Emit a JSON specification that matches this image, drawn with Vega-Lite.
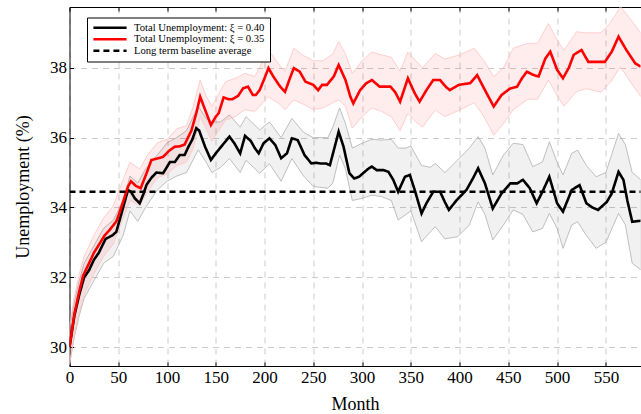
{
  "$schema": "https://vega.github.io/schema/vega-lite/v6.json",
  "autosize": "none",
  "padding": {"left": 69.5, "top": 7, "right": 0, "bottom": 48},
  "width": 571,
  "height": 359,
  "config": {
    "view": {"stroke": null},
    "font": "Liberation Serif",
    "axis": {
      "labelFont": "Liberation Serif",
      "titleFont": "Liberation Serif",
      "labelFontSize": 17,
      "titleFontSize": 18,
      "titleFontWeight": "normal",
      "labelColor": "#000",
      "titleColor": "#000",
      "domainColor": "#000",
      "domainWidth": 1,
      "tickColor": "#000",
      "tickSize": -4,
      "gridColor": "#bfbfbf",
      "gridDash": [6, 5],
      "gridWidth": 0.8
    }
  },
  "datasets": {
    "lines": [
      {"s":"a","m":0,"v":30.0},{"s":"a","m":5,"v":30.9},{"s":"a","m":10,"v":31.5},{"s":"a","m":15,"v":32.0},{"s":"a","m":20,"v":32.2},{"s":"a","m":25,"v":32.5},{"s":"a","m":30,"v":32.7},{"s":"a","m":37,"v":33.1},{"s":"a","m":44,"v":33.2},{"s":"a","m":48,"v":33.3},{"s":"a","m":52,"v":33.7},{"s":"a","m":56,"v":34.1},{"s":"a","m":60,"v":34.5},{"s":"a","m":63,"v":34.45},{"s":"a","m":67,"v":34.26},{"s":"a","m":72,"v":34.12},{"s":"a","m":76,"v":34.4},{"s":"a","m":79,"v":34.65},{"s":"a","m":84,"v":34.85},{"s":"a","m":89,"v":35.0},{"s":"a","m":96,"v":34.98},{"s":"a","m":103,"v":35.3},{"s":"a","m":108,"v":35.3},{"s":"a","m":113,"v":35.5},{"s":"a","m":118,"v":35.5},{"s":"a","m":122,"v":35.74},{"s":"a","m":126,"v":35.95},{"s":"a","m":130,"v":36.27},{"s":"a","m":133,"v":36.2},{"s":"a","m":139,"v":35.74},{"s":"a","m":145,"v":35.36},{"s":"a","m":150,"v":35.55},{"s":"a","m":157,"v":35.79},{"s":"a","m":164,"v":36.03},{"s":"a","m":169,"v":35.84},{"s":"a","m":175,"v":35.55},{"s":"a","m":180,"v":36.05},{"s":"a","m":186,"v":35.9},{"s":"a","m":190,"v":35.7},{"s":"a","m":194,"v":35.55},{"s":"a","m":199,"v":35.84},{"s":"a","m":205,"v":35.98},{"s":"a","m":211,"v":35.79},{"s":"a","m":217,"v":35.41},{"s":"a","m":223,"v":35.55},{"s":"a","m":228,"v":35.98},{"s":"a","m":234,"v":35.93},{"s":"a","m":241,"v":35.5},{"s":"a","m":248,"v":35.26},{"s":"a","m":253,"v":35.28},{"s":"a","m":257,"v":35.26},{"s":"a","m":263,"v":35.26},{"s":"a","m":267,"v":35.21},{"s":"a","m":272,"v":35.74},{"s":"a","m":276,"v":36.17},{"s":"a","m":281,"v":35.74},{"s":"a","m":287,"v":34.98},{"s":"a","m":292,"v":34.83},{"s":"a","m":297,"v":34.88},{"s":"a","m":301,"v":34.98},{"s":"a","m":306,"v":35.1},{"s":"a","m":310,"v":35.17},{"s":"a","m":315,"v":35.07},{"s":"a","m":322,"v":35.07},{"s":"a","m":327,"v":35.02},{"s":"a","m":332,"v":34.79},{"s":"a","m":337,"v":34.45},{"s":"a","m":344,"v":34.88},{"s":"a","m":349,"v":34.93},{"s":"a","m":354,"v":34.5},{"s":"a","m":361,"v":33.83},{"s":"a","m":366,"v":34.12},{"s":"a","m":373,"v":34.45},{"s":"a","m":380,"v":34.45},{"s":"a","m":385,"v":34.15},{"s":"a","m":389,"v":33.93},{"s":"a","m":397,"v":34.21},{"s":"a","m":407,"v":34.5},{"s":"a","m":414,"v":34.85},{"s":"a","m":419,"v":35.12},{"s":"a","m":426,"v":34.69},{"s":"a","m":434,"v":33.97},{"s":"a","m":443,"v":34.4},{"s":"a","m":452,"v":34.69},{"s":"a","m":459,"v":34.69},{"s":"a","m":465,"v":34.79},{"s":"a","m":472,"v":34.55},{"s":"a","m":479,"v":34.12},{"s":"a","m":485,"v":34.45},{"s":"a","m":492,"v":34.88},{"s":"a","m":500,"v":34.12},{"s":"a","m":506,"v":33.88},{"s":"a","m":515,"v":34.5},{"s":"a","m":523,"v":34.64},{"s":"a","m":530,"v":34.12},{"s":"a","m":536,"v":34.0},{"s":"a","m":542,"v":33.93},{"s":"a","m":551,"v":34.16},{"s":"a","m":556,"v":34.4},{"s":"a","m":563,"v":35.02},{"s":"a","m":568,"v":34.79},{"s":"a","m":572,"v":34.2},{"s":"a","m":577,"v":33.59},{"s":"a","m":586,"v":33.62},
      {"s":"b","m":0,"v":30.0},{"s":"b","m":5,"v":30.95},{"s":"b","m":10,"v":31.6},{"s":"b","m":14,"v":32.05},{"s":"b","m":20,"v":32.4},{"s":"b","m":25,"v":32.7},{"s":"b","m":31,"v":32.97},{"s":"b","m":36,"v":33.2},{"s":"b","m":41,"v":33.35},{"s":"b","m":48,"v":33.6},{"s":"b","m":51,"v":33.83},{"s":"b","m":56,"v":34.25},{"s":"b","m":60,"v":34.6},{"s":"b","m":63,"v":34.75},{"s":"b","m":68,"v":34.62},{"s":"b","m":73,"v":34.55},{"s":"b","m":79,"v":34.98},{"s":"b","m":84,"v":35.36},{"s":"b","m":90,"v":35.4},{"s":"b","m":96,"v":35.45},{"s":"b","m":102,"v":35.62},{"s":"b","m":108,"v":35.74},{"s":"b","m":113,"v":35.75},{"s":"b","m":118,"v":35.8},{"s":"b","m":125,"v":36.2},{"s":"b","m":130,"v":36.7},{"s":"b","m":134,"v":37.17},{"s":"b","m":139,"v":36.8},{"s":"b","m":145,"v":36.36},{"s":"b","m":150,"v":36.6},{"s":"b","m":153,"v":36.7},{"s":"b","m":158,"v":37.15},{"s":"b","m":163,"v":37.1},{"s":"b","m":167,"v":37.1},{"s":"b","m":173,"v":37.2},{"s":"b","m":178,"v":37.41},{"s":"b","m":183,"v":37.46},{"s":"b","m":188,"v":37.22},{"s":"b","m":191,"v":37.22},{"s":"b","m":195,"v":37.36},{"s":"b","m":200,"v":37.7},{"s":"b","m":204,"v":37.99},{"s":"b","m":209,"v":37.75},{"s":"b","m":216,"v":37.46},{"s":"b","m":221,"v":37.31},{"s":"b","m":226,"v":37.7},{"s":"b","m":230,"v":37.99},{"s":"b","m":236,"v":37.89},{"s":"b","m":242,"v":37.6},{"s":"b","m":250,"v":37.51},{"s":"b","m":255,"v":37.36},{"s":"b","m":259,"v":37.51},{"s":"b","m":264,"v":37.51},{"s":"b","m":271,"v":37.75},{"s":"b","m":276,"v":38.08},{"s":"b","m":283,"v":37.65},{"s":"b","m":288,"v":37.17},{"s":"b","m":291,"v":36.98},{"s":"b","m":298,"v":37.36},{"s":"b","m":304,"v":37.55},{"s":"b","m":310,"v":37.65},{"s":"b","m":318,"v":37.46},{"s":"b","m":329,"v":37.46},{"s":"b","m":334,"v":37.3},{"s":"b","m":339,"v":37.03},{"s":"b","m":347,"v":37.7},{"s":"b","m":354,"v":37.27},{"s":"b","m":359,"v":37.03},{"s":"b","m":366,"v":37.36},{"s":"b","m":373,"v":37.65},{"s":"b","m":380,"v":37.65},{"s":"b","m":386,"v":37.45},{"s":"b","m":390,"v":37.36},{"s":"b","m":399,"v":37.51},{"s":"b","m":411,"v":37.56},{"s":"b","m":418,"v":37.79},{"s":"b","m":426,"v":37.36},{"s":"b","m":435,"v":36.89},{"s":"b","m":443,"v":37.22},{"s":"b","m":452,"v":37.41},{"s":"b","m":459,"v":37.46},{"s":"b","m":464,"v":37.7},{"s":"b","m":469,"v":37.89},{"s":"b","m":475,"v":37.8},{"s":"b","m":481,"v":37.75},{"s":"b","m":488,"v":38.27},{"s":"b","m":493,"v":38.46},{"s":"b","m":500,"v":37.94},{"s":"b","m":506,"v":37.7},{"s":"b","m":512,"v":38.0},{"s":"b","m":517,"v":38.37},{"s":"b","m":525,"v":38.51},{"s":"b","m":532,"v":38.17},{"s":"b","m":541,"v":38.17},{"s":"b","m":549,"v":38.17},{"s":"b","m":556,"v":38.46},{"s":"b","m":563,"v":38.89},{"s":"b","m":571,"v":38.51},{"s":"b","m":580,"v":38.13},{"s":"b","m":586,"v":38.03},
      {"s":"c","m":0,"v":34.45},{"s":"c","m":590,"v":34.45}
    ],
    "gray": [
      {"m":0,"lo":29.5,"hi":30.5},{"m":5,"lo":30.3,"hi":31.3},{"m":10,"lo":30.9,"hi":31.9},{"m":15,"lo":31.4,"hi":32.4},{"m":25,"lo":31.9,"hi":32.9},{"m":35,"lo":32.4,"hi":33.4},{"m":45,"lo":32.6,"hi":33.64},{"m":55,"lo":33.2,"hi":34.2},{"m":62,"lo":33.9,"hi":34.9},{"m":70,"lo":33.6,"hi":34.7},{"m":78,"lo":34.0,"hi":35.1},{"m":90,"lo":34.5,"hi":35.5},{"m":100,"lo":34.75,"hi":35.85},{"m":110,"lo":34.9,"hi":36.0},{"m":120,"lo":35.0,"hi":36.2},{"m":132,"lo":35.65,"hi":36.9},{"m":140,"lo":35.3,"hi":36.55},{"m":146,"lo":35.0,"hi":36.45},{"m":155,"lo":35.15,"hi":36.45},{"m":164,"lo":35.4,"hi":36.65},{"m":175,"lo":35.0,"hi":36.3},{"m":181,"lo":35.35,"hi":36.6},{"m":195,"lo":34.98,"hi":36.22},{"m":205,"lo":35.25,"hi":36.45},{"m":217,"lo":34.75,"hi":36.0},{"m":228,"lo":35.4,"hi":36.55},{"m":240,"lo":34.9,"hi":36.15},{"m":250,"lo":34.6,"hi":36.0},{"m":265,"lo":34.55,"hi":36.0},{"m":270,"lo":34.7,"hi":36.3},{"m":277,"lo":35.5,"hi":36.85},{"m":283,"lo":35.1,"hi":36.4},{"m":290,"lo":34.2,"hi":35.7},{"m":300,"lo":34.26,"hi":35.84},{"m":310,"lo":34.35,"hi":35.95},{"m":320,"lo":34.31,"hi":35.93},{"m":330,"lo":34.2,"hi":35.95},{"m":337,"lo":33.64,"hi":35.7},{"m":345,"lo":33.8,"hi":35.7},{"m":350,"lo":33.9,"hi":35.76},{"m":361,"lo":33.02,"hi":35.2},{"m":370,"lo":33.3,"hi":35.15},{"m":375,"lo":33.45,"hi":35.26},{"m":385,"lo":33.1,"hi":35.0},{"m":398,"lo":33.16,"hi":35.36},{"m":410,"lo":33.5,"hi":35.7},{"m":419,"lo":34.16,"hi":36.03},{"m":426,"lo":33.8,"hi":35.7},{"m":434,"lo":33.07,"hi":34.93},{"m":445,"lo":33.5,"hi":35.5},{"m":455,"lo":33.93,"hi":35.84},{"m":465,"lo":33.8,"hi":35.8},{"m":475,"lo":33.3,"hi":35.17},{"m":485,"lo":33.4,"hi":35.3},{"m":492,"lo":33.83,"hi":35.88},{"m":500,"lo":33.4,"hi":35.3},{"m":506,"lo":32.83,"hi":34.93},{"m":515,"lo":33.5,"hi":35.55},{"m":521,"lo":33.59,"hi":35.64},{"m":530,"lo":33.2,"hi":35.2},{"m":540,"lo":32.83,"hi":34.88},{"m":550,"lo":33.0,"hi":35.0},{"m":563,"lo":33.83,"hi":36.12},{"m":570,"lo":33.5,"hi":35.8},{"m":577,"lo":32.4,"hi":35.0},{"m":586,"lo":32.21,"hi":34.79}
    ],
    "pink": [
      {"m":0,"lo":29.5,"hi":30.6},{"m":5,"lo":30.35,"hi":31.45},{"m":10,"lo":31.0,"hi":32.1},{"m":15,"lo":31.5,"hi":32.6},{"m":25,"lo":32.1,"hi":33.2},{"m":35,"lo":32.6,"hi":33.7},{"m":45,"lo":32.95,"hi":34.05},{"m":55,"lo":33.7,"hi":34.8},{"m":62,"lo":34.2,"hi":35.3},{"m":72,"lo":34.05,"hi":35.1},{"m":80,"lo":34.45,"hi":35.5},{"m":90,"lo":34.85,"hi":35.85},{"m":100,"lo":34.95,"hi":35.95},{"m":110,"lo":35.2,"hi":36.25},{"m":120,"lo":35.3,"hi":36.35},{"m":127,"lo":35.7,"hi":36.9},{"m":134,"lo":36.6,"hi":37.65},{"m":140,"lo":36.25,"hi":37.2},{"m":146,"lo":35.9,"hi":36.89},{"m":152,"lo":36.15,"hi":37.2},{"m":160,"lo":36.5,"hi":37.6},{"m":170,"lo":36.6,"hi":37.7},{"m":180,"lo":36.8,"hi":37.84},{"m":190,"lo":36.75,"hi":37.75},{"m":204,"lo":37.17,"hi":38.51},{"m":216,"lo":36.95,"hi":38.05},{"m":221,"lo":36.8,"hi":37.9},{"m":230,"lo":37.08,"hi":38.56},{"m":240,"lo":36.95,"hi":38.35},{"m":250,"lo":36.8,"hi":38.2},{"m":260,"lo":36.85,"hi":38.2},{"m":270,"lo":37.0,"hi":38.4},{"m":276,"lo":37.08,"hi":38.75},{"m":283,"lo":36.9,"hi":38.4},{"m":290,"lo":36.27,"hi":37.84},{"m":300,"lo":36.6,"hi":38.2},{"m":310,"lo":36.85,"hi":38.45},{"m":320,"lo":36.75,"hi":38.37},{"m":330,"lo":36.6,"hi":38.3},{"m":339,"lo":36.2,"hi":37.9},{"m":347,"lo":36.7,"hi":38.45},{"m":355,"lo":36.45,"hi":38.2},{"m":362,"lo":36.3,"hi":38.0},{"m":375,"lo":36.79,"hi":38.41},{"m":385,"lo":36.6,"hi":38.25},{"m":400,"lo":36.79,"hi":38.37},{"m":415,"lo":37.0,"hi":38.56},{"m":425,"lo":36.6,"hi":38.2},{"m":435,"lo":36.07,"hi":37.75},{"m":445,"lo":36.4,"hi":38.0},{"m":455,"lo":36.8,"hi":38.56},{"m":470,"lo":37.1,"hi":38.7},{"m":480,"lo":37.1,"hi":38.7},{"m":491,"lo":37.65,"hi":39.27},{"m":500,"lo":37.2,"hi":38.8},{"m":507,"lo":36.9,"hi":38.5},{"m":520,"lo":37.32,"hi":39.03},{"m":530,"lo":37.4,"hi":39.0},{"m":545,"lo":37.3,"hi":39.0},{"m":555,"lo":37.6,"hi":39.3},{"m":565,"lo":38.03,"hi":39.75},{"m":575,"lo":37.6,"hi":39.4},{"m":586,"lo":37.17,"hi":38.99}
    ]
  },
  "resolve": {"axis": {"x": "independent"}},
  "layer": [
    {
      "data": {"name": "gray"},
      "mark": {"type": "area", "clip": true, "fill": "#000000", "fillOpacity": 0.055, "stroke": "#b0b0b0", "strokeWidth": 0.8},
      "encoding": {
        "x": {"field": "m", "type": "quantitative", "scale": {"domain": [0, 585.5], "nice": false, "zero": false},
              "axis": {"orient": "bottom", "title": "Month", "values": [0,50,100,150,200,250,300,350,400,450,500,550], "grid": true, "labelPadding": 7, "titlePadding": 10, "labelFlush": false}},
        "y": {"field": "lo", "type": "quantitative", "scale": {"domain": [29.46, 39.74], "nice": false, "zero": false},
              "axis": {"title": "Unemployment (%)", "values": [30,32,34,36,38], "grid": true, "labelPadding": 7, "titlePadding": 17}},
        "y2": {"field": "hi"}
      }
    },
    {
      "data": {"name": "pink"},
      "mark": {"type": "area", "clip": true, "fill": "#ff0000", "fillOpacity": 0.07, "stroke": "#ffc4c4", "strokeWidth": 0.8},
      "encoding": {
        "x": {"field": "m", "type": "quantitative", "axis": {"orient": "top", "labels": false, "title": null, "grid": false, "values": [0,50,100,150,200,250,300,350,400,450,500,550]}},
        "y": {"field": "lo", "type": "quantitative"},
        "y2": {"field": "hi"}
      }
    },
    {
      "data": {"name": "lines"},
      "mark": {"type": "line", "clip": true},
      "encoding": {
        "x": {"field": "m", "type": "quantitative", "axis": null},
        "y": {"field": "v", "type": "quantitative"},
        "color": {"field": "s", "type": "nominal",
                  "scale": {"domain": ["a","b","c"], "range": ["#000000","#ff0000","#000000"]},
                  "legend": {"title": null, "orient": "none", "legendX": 17.5, "legendY": 10.5,
                             "symbolType": "stroke", "symbolSize": 1100, "symbolStrokeWidth": 2.6,
                             "labelFont": "Liberation Serif", "labelFontSize": 10.6, "labelColor": "#000",
                             "labelOffset": 6, "rowPadding": 0.5, "clipHeight": 10.5, "padding": 5,
                             "strokeColor": "#000", "fillColor": "#ffffff",
                             "labelExpr": "datum.label == 'a' ? 'Total Unemployment: ξ = 0.40' : datum.label == 'b' ? 'Total Unemployment: ξ = 0.35' : 'Long term baseline average'"}},
        "strokeDash": {"field": "s", "type": "nominal",
                       "scale": {"domain": ["a","b","c"], "range": [[1,0],[1,0],[6,4]]}},
        "strokeWidth": {"field": "s", "type": "nominal",
                        "scale": {"domain": ["a","b","c"], "range": [2.6,2.6,2]}, "legend": null}
      }
    }
  ]
}
